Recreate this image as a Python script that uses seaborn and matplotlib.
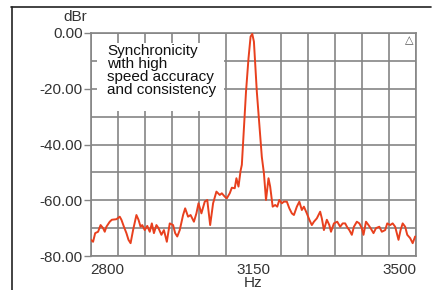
#imports
import numpy as np
import pandas as pd
import matplotlib
matplotlib.use("Agg")
import matplotlib.pyplot as plt
import seaborn as sns
from matplotlib.lines import Line2D
from matplotlib.patches import Rectangle

#spectrum: frequency (Hz) and level (dBr)
freq_hz = [2760, 2765, 2770, 2777, 2783, 2789, 2793, 2797, 2805, 2810, 2821, 2829,
           2833, 2839, 2845, 2850, 2855, 2861, 2869, 2874, 2879, 2883, 2889, 2895,
           2901, 2906, 2911, 2917, 2922, 2929, 2935, 2942, 2949, 2957, 2962, 2967,
           2973, 2981, 2986, 2993, 2999, 3007, 3013, 3018, 3025, 3033, 3039, 3046,
           3053, 3061, 3069, 3074, 3081, 3086, 3093, 3098, 3105, 3109, 3114, 3119,
           3122, 3126, 3132, 3138, 3143, 3147, 3151, 3158, 3164, 3170, 3175, 3180,
           3186, 3190, 3196, 3202, 3207, 3212, 3218, 3223, 3230, 3236, 3242, 3247,
           3254, 3260, 3266, 3271, 3278, 3284, 3290, 3295, 3302, 3310, 3314, 3319,
           3326, 3332, 3336, 3343, 3351, 3358, 3364, 3370, 3375, 3380, 3386, 3391,
           3398, 3404, 3410, 3414, 3420, 3426, 3431, 3438, 3444, 3452, 3458, 3466,
           3471, 3478, 3484, 3490, 3494, 3498, 3503, 3508, 3514, 3519, 3526, 3532,
           3538]
level_dbr = [-74.2, -74.9, -71.8, -71.3, -68.9, -70.0, -71.3, -69.5, -67.7, -67.0, -66.8, -65.9,
             -67.0, -69.5, -71.8, -74.2, -75.4, -70.7, -65.3, -67.0, -69.5, -68.9, -70.7, -69.2,
             -71.3, -68.3, -71.8, -68.9, -70.0, -72.4, -70.7, -74.9, -68.3, -68.9, -71.8, -73.0,
             -70.7, -65.3, -62.9, -65.9, -65.3, -67.7, -64.7, -61.1, -64.7, -60.5, -59.9, -68.9,
             -61.1, -56.9, -58.1, -57.5, -58.7, -59.3, -57.5, -55.5, -55.7, -52.1, -55.1, -49.4,
             -47.3, -36.6, -21.1, -9.1, -1.3, -0.3, -3.1, -21.1, -33.0, -44.5, -50.3, -59.9,
             -52.1, -55.1, -62.3, -61.7, -62.3, -59.9, -61.1, -60.5, -60.5, -62.9, -64.7, -65.3,
             -62.3, -60.5, -63.5, -62.3, -64.7, -67.0, -68.9, -67.7, -66.5, -64.1, -66.5, -70.7,
             -67.0, -68.9, -71.3, -68.3, -67.7, -69.5, -68.3, -68.3, -69.7, -70.7, -72.4, -69.5,
             -67.7, -68.3, -70.0, -72.4, -67.7, -68.9, -70.0, -71.8, -70.0, -69.5, -71.3, -70.7,
             -68.3, -68.9, -68.3, -69.5, -71.8, -74.2, -70.7, -68.3, -69.5, -72.4, -73.6, -75.4,
             -73.0]

x_tick_values = [2800, 3150, 3500]
y_tick_values = [0, -20, -40, -60, -80]
y_tick_labels = ["0.00", "-20.00", "-40.00", "-60.00", "-80.00"]
note_text = "Synchronicity\nwith high\nspeed accuracy\nand consistency"

df = pd.DataFrame({"Hz": freq_hz, "dBr": level_dbr})

#style
sns.set_style("white")
plt.rcParams["font.family"] = ["Liberation Sans", "DejaVu Sans"]

grid_col = "#858585"
text_col = "#333333"
line_col = "#e8401e"

fig = plt.figure(figsize=(4.38, 2.9), dpi=100)
ax = fig.add_axes([91 / 438, 1 - 256 / 290, 325 / 438, 223 / 290])

sns.lineplot(data=df, x="Hz", y="dBr", ax=ax, color=line_col, linewidth=1.4, zorder=5)

ax.set_xlim(2760, 3540)
ax.set_ylim(-80, 0)

#x: labelled ticks at 2800/3150/3500, grid every 65 Hz
ax.set_xticks(x_tick_values)
ax.set_xticklabels([str(v) for v in x_tick_values])
ax.set_xticks(np.arange(2760, 3541, 65), minor=True)
ax.tick_params(axis="x", which="both", length=0, pad=5, labelsize=11, labelcolor=text_col)

#y: labels every 20, grid every 10
ax.set_yticks(y_tick_values)
ax.set_yticklabels(y_tick_labels)
ax.set_yticks(np.arange(-70, 0, 20), minor=True)
ax.tick_params(axis="y", which="major", length=5, width=1, color=grid_col, pad=1,
               labelsize=11, labelcolor=text_col, left=True)
ax.tick_params(axis="y", which="minor", length=0)

ax.grid(False)
ax.xaxis.grid(True, which="minor", color=grid_col, linewidth=1.2)
ax.yaxis.grid(True, which="both", color=grid_col, linewidth=1.2)
ax.set_axisbelow(True)
for s in ax.spines.values():
    s.set_color(grid_col)
    s.set_linewidth(1.2)

ax.set_xlabel("Hz", fontsize=11, color=text_col, labelpad=-1)
ax.set_ylabel("")
fig.text(75 / 438, 1 - 17 / 290, "dBr", fontsize=11, color=text_col, ha="center", va="center")

#note box covering the grid
ax.add_patch(Rectangle((6 / 325, (256 - 111) / 223), 127 / 325, 68 / 223,
                       transform=ax.transAxes, facecolor="white", edgecolor="none", zorder=3))
ax.text(16 / 325, (256 - 44) / 223, note_text, transform=ax.transAxes, fontsize=11,
        color="#111111", va="top", ha="left", linespacing=0.92, zorder=4)

#little marker in the top right corner
ax.text(318 / 325, (256 - 40) / 223, "\u25b3", transform=ax.transAxes, fontsize=8,
        color="#555555", ha="center", va="center", family=["DejaVu Sans"], zorder=4)

#outer frame of the original screenshot
fig.add_artist(Line2D([11 / 438, 431 / 438], [1 - 7 / 290, 1 - 7 / 290],
                      transform=fig.transFigure, color="#222222", linewidth=1.2))
fig.add_artist(Line2D([12 / 438, 12 / 438], [0, 1 - 7 / 290],
                      transform=fig.transFigure, color="#222222", linewidth=1.2))

fig.savefig("out.png", dpi=100)
